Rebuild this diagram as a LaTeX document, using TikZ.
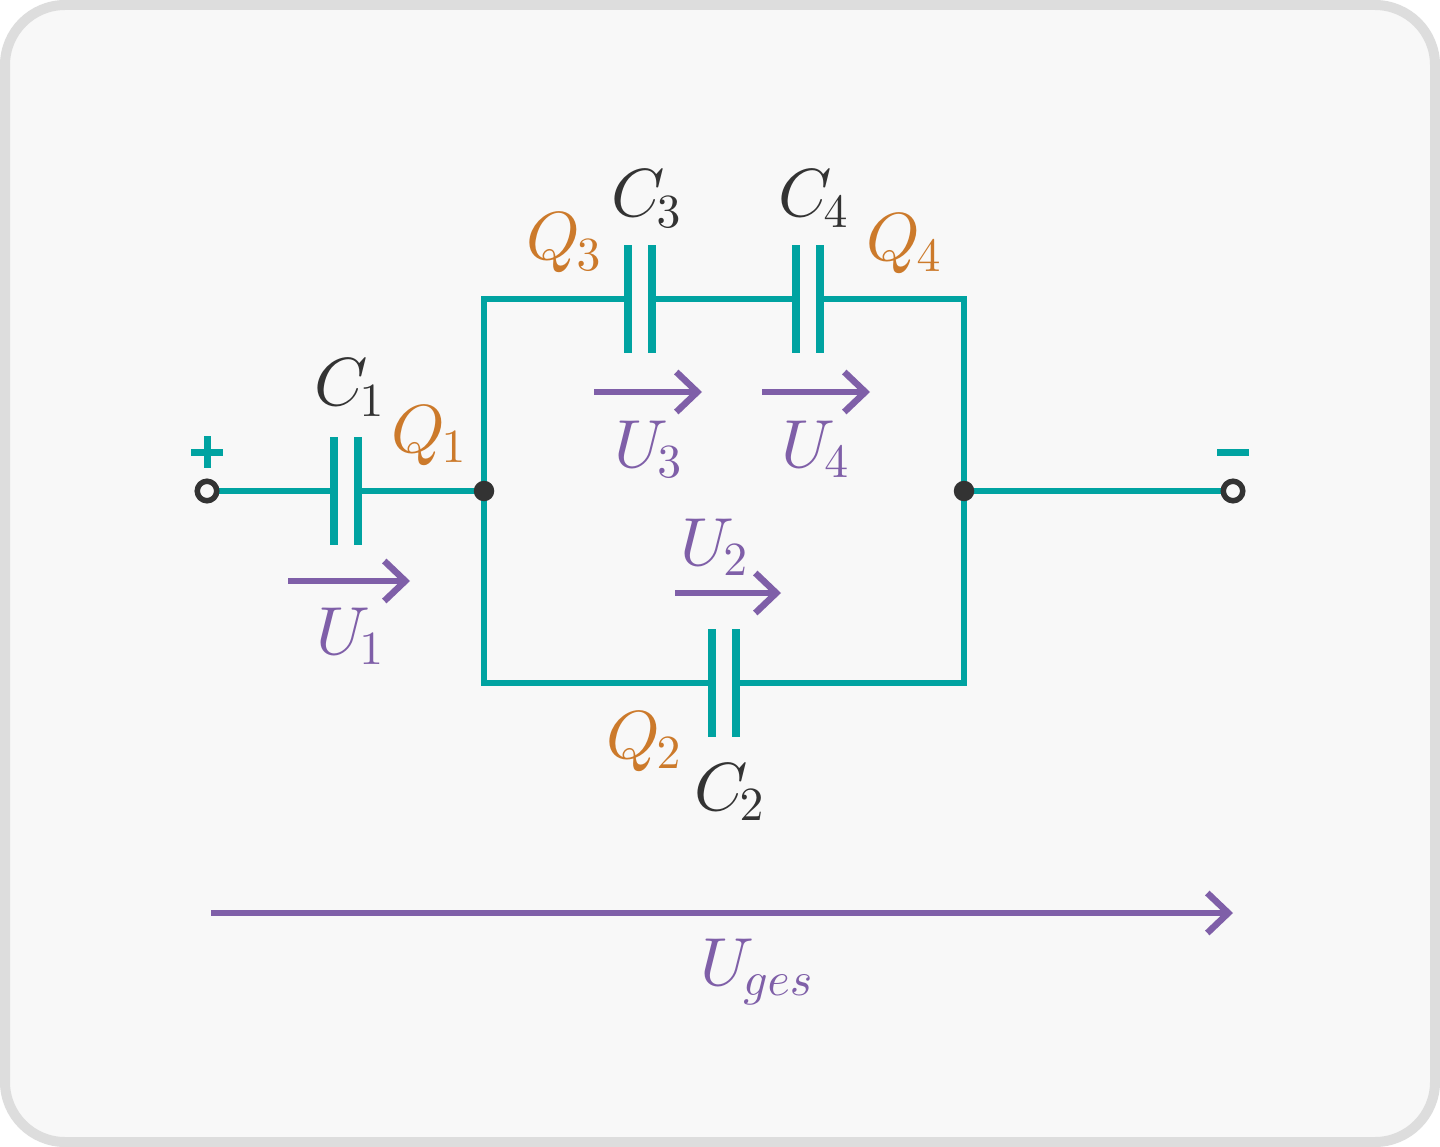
\documentclass[tikz,border=0pt]{standalone}
\usetikzlibrary{arrows.meta}
\definecolor{teal1}{HTML}{00A3A1}
\definecolor{purp}{HTML}{7F5FA8}
\definecolor{oran}{HTML}{CC7A2B}
\definecolor{dark}{HTML}{333333}
\definecolor{panel}{HTML}{F8F8F8}
\definecolor{rim}{HTML}{DDDDDD}
\newcommand{\sbx}[1]{\kern-0.45pt\scalebox{0.7}{$\textstyle #1$}}
\tikzset{
  x=1pt,y=-1pt,
  plate/.style={rectangle,fill=teal1,draw=none,minimum width=8pt,minimum height=108pt,inner sep=0pt,outer sep=0pt},
  wire/.style={draw=teal1,line width=5.2pt},
  volt/.style={draw=purp,line width=5.5pt,-{Straight Barb[length=21pt,width=40pt,line width=6.5pt,sharp]}},
  junction/.style={circle,fill=dark,draw=none,minimum size=20.5pt,inner sep=0pt,outer sep=0pt},
  terminal/.style={circle,fill=panel,draw=dark,line width=5.5pt,minimum size=19.5pt,inner sep=0pt,outer sep=0pt},
  lab/.style={inner sep=0pt,outer sep=0pt,anchor=base west,scale=6.8},
  labC/.style={lab,text=dark},
  labQ/.style={lab,text=oran},
  labU/.style={lab,text=purp},
  sign/.style={rectangle,fill=teal1,draw=none,inner sep=0pt,outer sep=0pt}
}
\begin{document}
\begin{tikzpicture}
\useasboundingbox (0,0) rectangle (1440,1147);
\fill[white] (0,0) rectangle (1440,1147);
\draw[rim,fill=panel,line width=10pt,rounded corners=60pt] (5,5) rectangle (1435,1142);
% coordinates
\coordinate (tl) at (484,299);
\coordinate (tr) at (964,299);
\coordinate (bl) at (484,683);
\coordinate (br) at (964,683);
\coordinate (tpc) at (207,491);
\coordinate (tmc) at (1233,491);
\coordinate (jlc) at (484,491);
\coordinate (jrc) at (964,491);
% wires
\draw[wire] (tpc) -- (333.5,491);
\draw[wire] (357.5,491) -- (jlc);
\draw[wire] (jlc) -- (tl) -- (628,299);
\draw[wire] (652,299) -- (796,299);
\draw[wire] (820,299) -- (tr) -- (jrc);
\draw[wire] (jlc) -- (bl) -- (712,683);
\draw[wire] (736,683) -- (br) -- (jrc);
\draw[wire] (jrc) -- (tmc);
% nodes
\node[terminal] (tp) at (tpc) {};
\node[terminal] (tm) at (tmc) {};
\node[junction] (jl) at (jlc) {};
\node[junction] (jr) at (jrc) {};
\node[plate] (c1a) at (333.5,491) {};
\node[plate] (c1b) at (357.5,491) {};
\node[plate] (c3a) at (628,299) {};
\node[plate] (c3b) at (652,299) {};
\node[plate] (c4a) at (796,299) {};
\node[plate] (c4b) at (820,299) {};
\node[plate] (c2a) at (712,683) {};
\node[plate] (c2b) at (736,683) {};
% signs
\node[sign,minimum width=32pt,minimum height=7pt] (plh) at (207,452) {};
\node[sign,minimum width=7pt,minimum height=32pt] (plv) at (207,452) {};
\node[sign,minimum width=32pt,minimum height=7pt] (mi) at (1233,452) {};
% voltage arrows
\coordinate (u1s) at (288,581); \coordinate (u1e) at (410,581);
\coordinate (u3s) at (594,392); \coordinate (u3e) at (702,392);
\coordinate (u4s) at (762,392); \coordinate (u4e) at (870,392);
\coordinate (u2s) at (675,593); \coordinate (u2e) at (781,593);
\coordinate (ugs) at (211,913); \coordinate (uge) at (1233,913);
\draw[volt] (u1s) -- (u1e);
\draw[volt] (u3s) -- (u3e);
\draw[volt] (u4s) -- (u4e);
\draw[volt] (u2s) -- (u2e);
\draw[volt] (ugs) -- (uge);
% labels
\node[labC] (lc1) at (314,406) {$C_{\sbx{1}}$};
\node[labC] (lc3) at (611,217) {$C_{\sbx{3}}$};
\node[labC] (lc4) at (778,217) {$C_{\sbx{4}}$};
\node[labC] (lc2) at (694,810) {$C_{\sbx{2}}$};
\node[labQ] (lq1) at (391,452) {$Q_{\sbx{1}}$};
\node[labQ] (lq3) at (526,260) {$Q_{\sbx{3}}$};
\node[labQ] (lq4) at (866,261) {$Q_{\sbx{4}}$};
\node[labQ] (lq2) at (606,758) {$Q_{\sbx{2}}$};
\node[labU] (lu1) at (316,654) {$U_{\sbx{1}}$};
\node[labU] (lu3) at (614,467) {$U_{\sbx{3}}$};
\node[labU] (lu4) at (781,467) {$U_{\sbx{4}}$};
\node[labU] (lu2) at (680,565) {$U_{\sbx{2}}$};
\node[labU] (lug) at (700,985) {$U_{\sbx{ges}}$};
\end{tikzpicture}
\end{document}
